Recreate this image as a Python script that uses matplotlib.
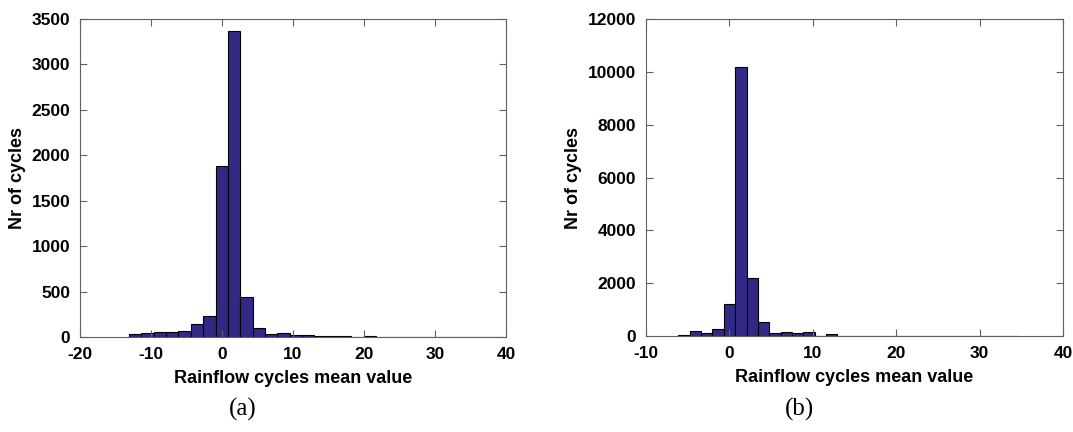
import numpy as np
import matplotlib
matplotlib.use("Agg")
import matplotlib.pyplot as plt

plt.rcParams["font.family"] = ["Liberation Sans", "DejaVu Sans"]
plt.rcParams["axes.unicode_minus"] = False

# ---------------------------------------------------------------------------
# Data: histogram counts (30 bins each)
# ---------------------------------------------------------------------------
# (a) bins start at -13.1, width 1.74
a_start, a_width = -13.1, 1.74
a_counts = [33, 48, 51, 55, 62, 140, 231, 1884, 3368, 444,
            95, 37, 44, 22, 18, 10, 8, 6, 5, 7,
            4, 3, 3, 2, 3, 2, 2, 1, 2, 1]

# (b) bins start at -6.1, width 1.36
b_start, b_width = -6.1, 1.36
b_counts = [50, 200, 125, 265, 1224, 10170, 2196, 530, 100, 140,
            100, 140, 10, 75, 10, 5, 20, 15, 8, 5,
            4, 3, 12, 3, 2, 2, 3, 2, 1, 1]

a_xticks = [-20, -10, 0, 10, 20, 30, 40]
a_yticks = [0, 500, 1000, 1500, 2000, 2500, 3000, 3500]
b_xticks = [-10, 0, 10, 20, 30, 40]
b_yticks = [0, 2000, 4000, 6000, 8000, 10000, 12000]

bar_color = "#322985"
box_color = "#606060"


def panel(ax, start, width, counts, xticks, yticks):
    edges = start + width * np.arange(len(counts) + 1)
    ax.hist(edges[:-1], bins=edges, weights=counts,
            color=bar_color, edgecolor="black", linewidth=0.8)
    ax.set_xlim(xticks[0], xticks[-1])
    ax.set_ylim(yticks[0], yticks[-1])
    ax.set_xticks(xticks)
    ax.set_yticks(yticks)
    ax.tick_params(direction="in", top=True, right=True, length=5,
                   width=0.8, color=box_color, labelsize=12.5, pad=7)
    for lbl in ax.get_xticklabels() + ax.get_yticklabels():
        lbl.set_fontweight("bold")
    for s in ax.spines.values():
        s.set_color(box_color)
        s.set_linewidth(0.8)
    ax.set_xlabel("Rainflow cycles mean value", fontsize=13, fontweight="bold",
                  labelpad=6)
    ax.set_ylabel("Nr of cycles", fontsize=13, fontweight="bold", labelpad=4)


fig = plt.figure(figsize=(10.73, 4.32), dpi=100)
ax1 = fig.add_axes([0.0746, 0.220, 0.397, 0.736])
ax2 = fig.add_axes([0.602, 0.222, 0.3886, 0.734])

panel(ax1, a_start, a_width, a_counts, a_xticks, a_yticks)
panel(ax2, b_start, b_width, b_counts, b_xticks, b_yticks)

serif = ["Liberation Serif", "DejaVu Serif"]
fig.text(0.226, 0.052, "(a)", ha="center", va="center", fontsize=18, family=serif)
fig.text(0.745, 0.052, "(b)", ha="center", va="center", fontsize=18, family=serif)

fig.savefig("out.png", dpi=100)
